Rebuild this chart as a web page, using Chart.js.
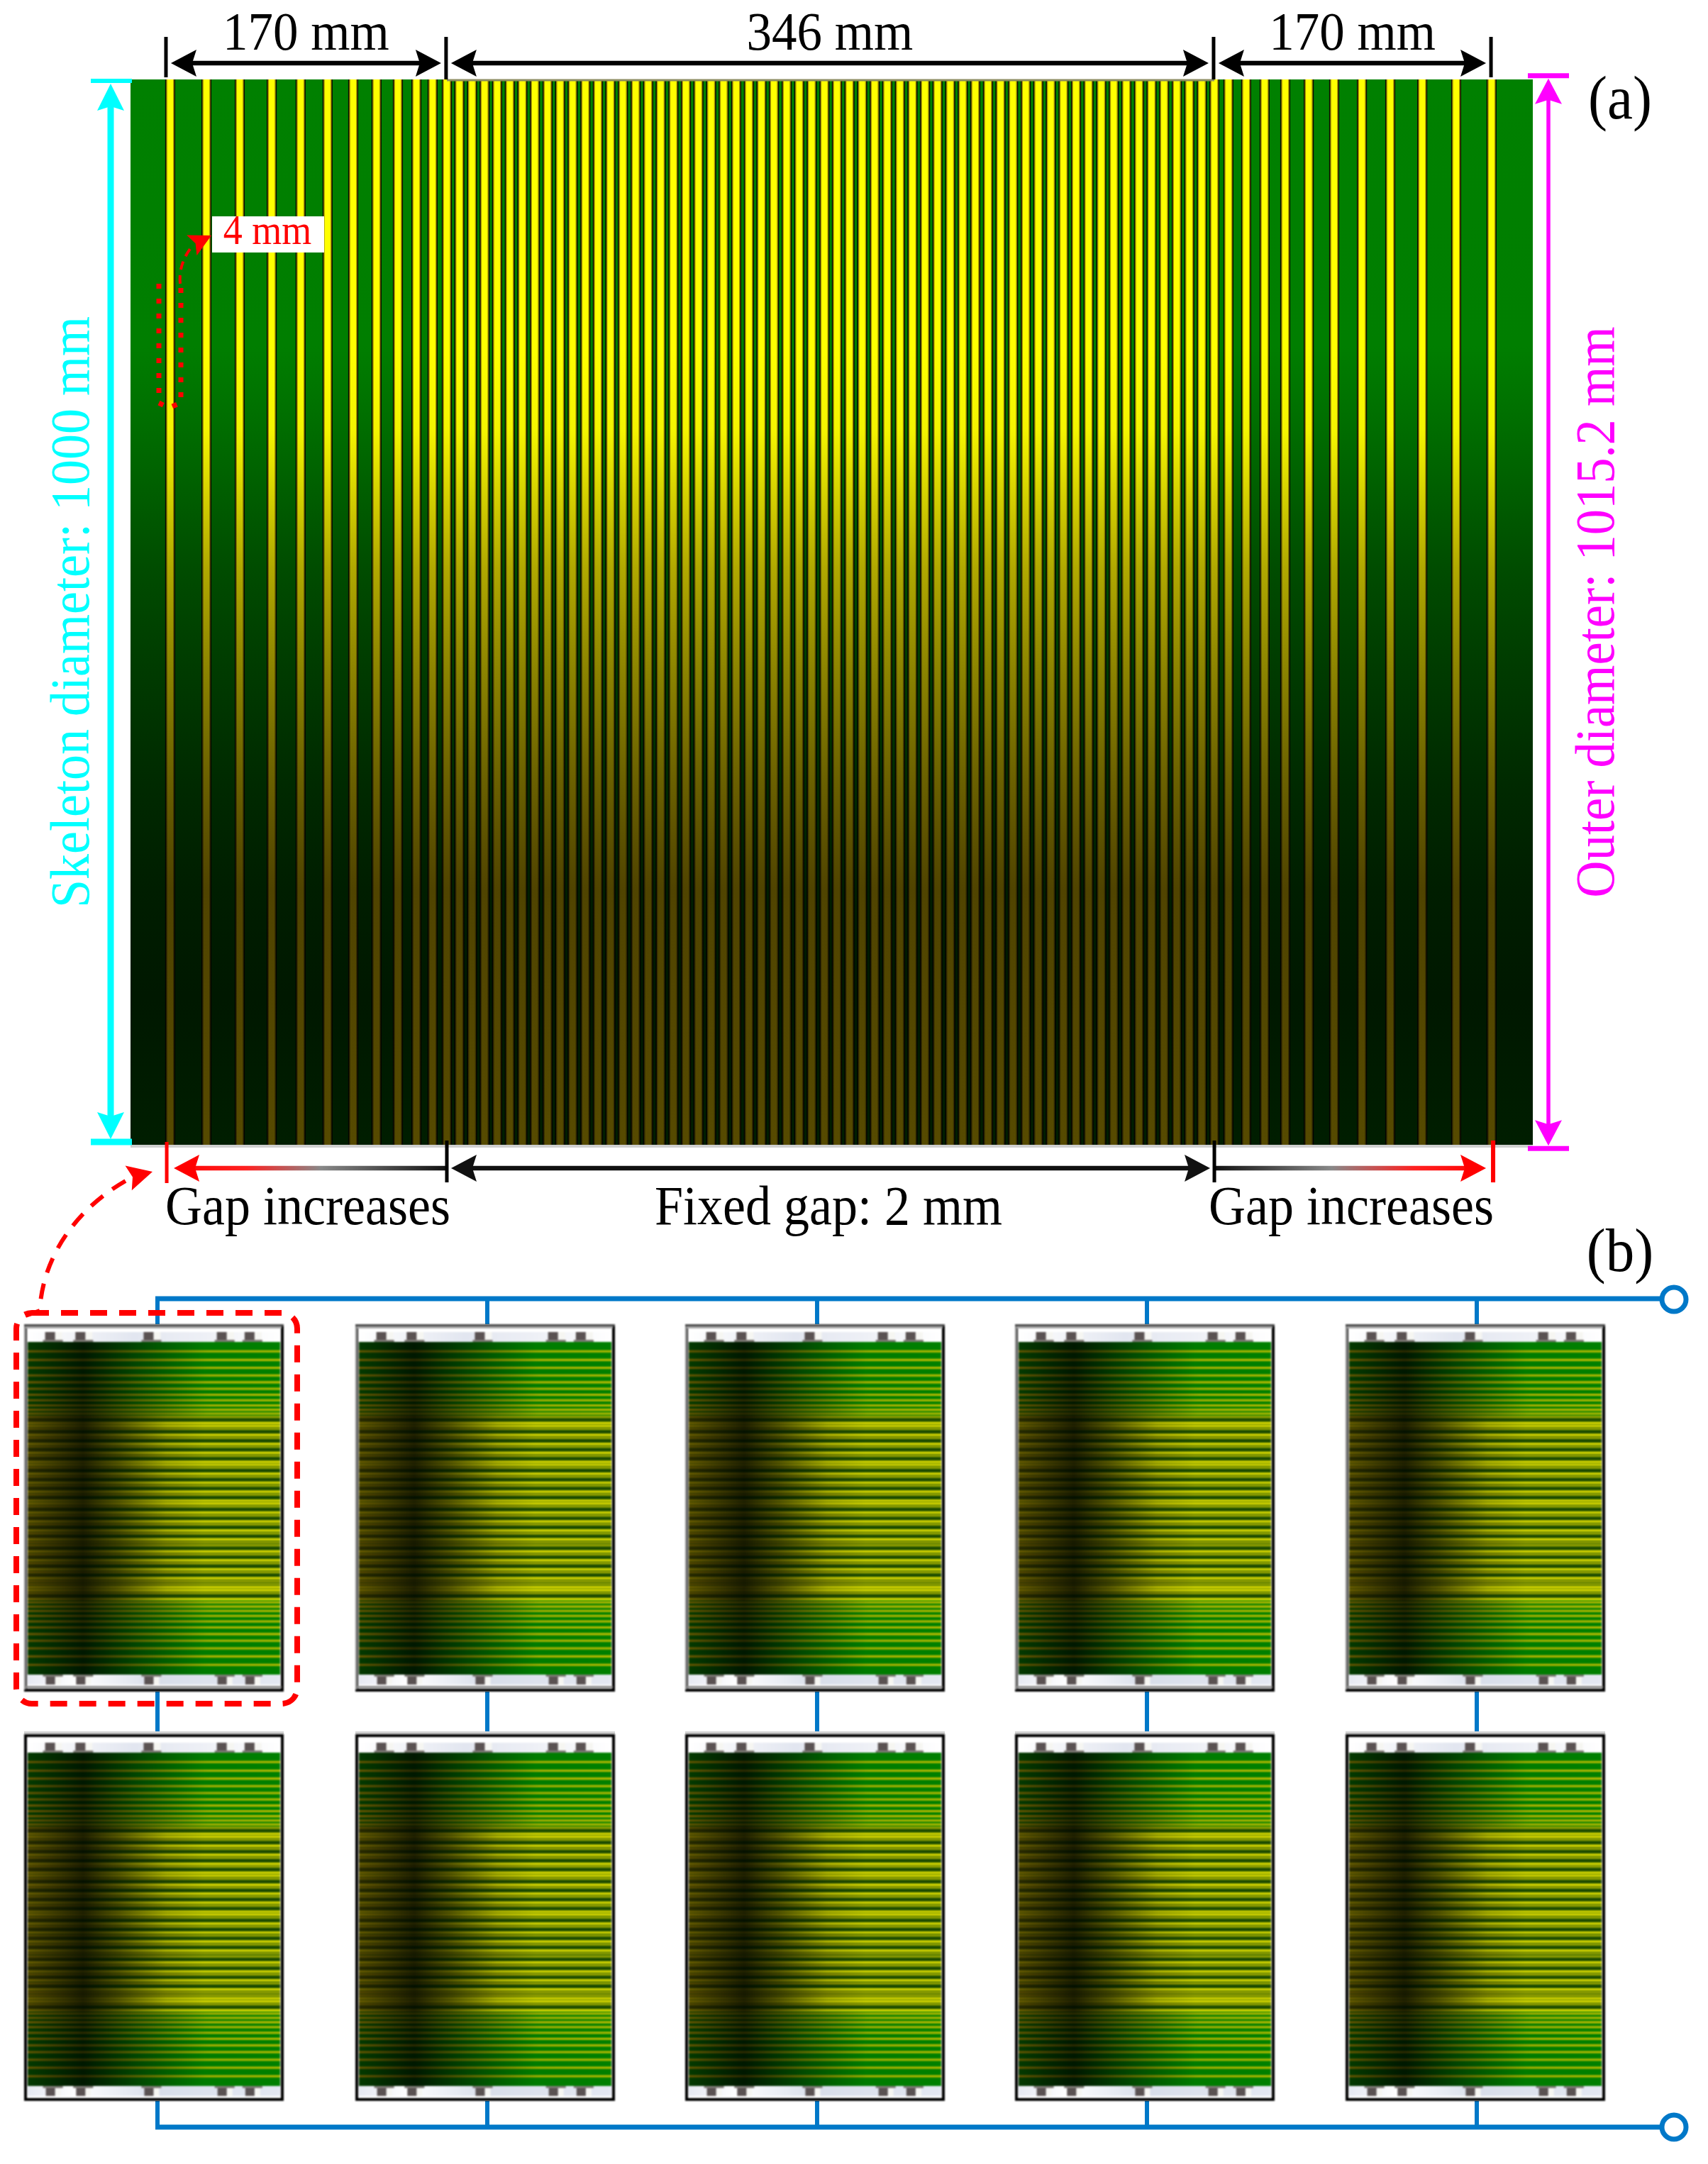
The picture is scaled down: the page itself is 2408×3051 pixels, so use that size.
<!DOCTYPE html>
<html lang="en">
<head>
  <meta charset="UTF-8">
  <title>Stripe layout on the skeleton and module array</title>
  <script src="https://cdn.jsdelivr.net/npm/chart.js"></script>
  <style>
    html, body { margin: 0; padding: 0; background: #fff; }
    #page { position: relative; width: 2408px; height: 3051px; overflow: hidden; }
    #page canvas { position: absolute; }
    .tile { filter: blur(0.8px); }
  </style>
</head>
<body>
  <div id="page"><canvas id="panelA" width="2408" height="3051" style="left:0;top:0"></canvas></div>

  <script>
    // stripe centres along the board
    const leftStripes = [0, 18.8, 36.1, 52.7, 67.7, 81.7, 95, 107.1, 118.2, 127.8, 136.2];
    const fixedStripes = [143.6, 150.1, 156.7, 163.2, 169.7, 176.3, 182.8, 189.3, 195.9, 202.4, 208.9,
      215.5, 222, 228.5, 235, 241.6, 248.1, 254.6, 261.2, 267.7, 274.2, 280.8, 287.3, 293.8, 300.4,
      306.9, 313.4, 320, 326.5, 333, 339.6, 346.1, 352.6, 359.2, 365.7, 372.2, 378.8, 385.3, 391.8,
      398.3, 404.9, 411.4, 417.9, 424.5, 431, 437.5, 444.1, 450.6, 457.1, 463.7, 470.2, 476.7, 483.3,
      489.8, 496.3, 502.9, 509.4, 515.9, 522.5, 529, 535.5, 542];
    const rightStripes = [549.3, 558.5, 568.1, 578.8, 591, 604.2, 618.6, 633.3, 649.9, 667.5, 685.9];
    const allStripes = [...leftStripes, ...fixedStripes, ...rightStripes];
    const sideStripes = [...leftStripes, ...rightStripes];

    const boardRange = [-20.6, 707.3];
    const diameterRange = [0, 1000];
    const topTicks = [-2.2, 143.2, 541.6, 685.6];
    const bottomTicks = [-1.8, 143.6, 542, 686.7];
    const outerEnds = [-3.5, 1003.5];
    const topLabels = ["170 mm", "346 mm", "170 mm"];
    const bottomLabels = ["Gap increases", "Fixed gap: 2 mm", "Gap increases"];
    const boltPositions = [100, 220, 490, 780, 890];

    // panel (b) layout
    const tileLefts = [34, 501, 966, 1431, 1897];
    const wireXs = [222, 687, 1152, 1617, 2082];
    const rows = [
      { top: 1867, bottom: 2385, boardTop: 1892, boardBottom: 2361, grey: true },
      { top: 2445, bottom: 2962, boardTop: 2471, boardBottom: 2941, grey: false }
    ];
    const tileWidth = 366;
    const serif = '"Liberation Serif", "Times New Roman", serif';

    Chart.defaults.animation = false;
    Chart.defaults.devicePixelRatio = 1;

    function label(ctx, str, x, y, size, color, align, rot) {
      ctx.save();
      ctx.translate(x, y);
      if (rot) ctx.rotate(rot);
      ctx.scale(1, 1.08);
      ctx.font = size + "px " + serif;
      ctx.fillStyle = color;
      ctx.textAlign = align || "center";
      ctx.textBaseline = "alphabetic";
      ctx.fillText(str, 0, 0);
      ctx.restore();
    }

    function arrowHead(ctx, x, y, dx, dy, len, half, color) {
      const d = Math.hypot(dx, dy), ux = dx / d, uy = dy / d;
      ctx.fillStyle = color;
      ctx.beginPath();
      ctx.moveTo(x, y);
      ctx.lineTo(x - ux * len - uy * half, y - uy * len + ux * half);
      ctx.lineTo(x - ux * (len - 6), y - uy * (len - 6));
      ctx.lineTo(x - ux * len + uy * half, y - uy * len - ux * half);
      ctx.closePath();
      ctx.fill();
    }

    function seg(ctx, x1, y1, x2, y2, w, color) {
      ctx.strokeStyle = color;
      ctx.lineWidth = w;
      ctx.beginPath();
      ctx.moveTo(x1, y1);
      ctx.lineTo(x2, y2);
      ctx.stroke();
    }

    function stripeFade(chart, stops) {
      const a = chart.chartArea;
      if (!a) return stops[0][1];
      const g = chart.ctx.createLinearGradient(0, a.top, 0, a.bottom);
      stops.forEach(s => g.addColorStop(s[0], s[1]));
      return g;
    }

    const yellowStops = [[0, "#ffff00"], [0.25, "#ffff00"], [0.33, "#f4f400"], [0.46, "#b0a800"], [0.56, "#8a8200"], [0.66, "#6a6000"], [0.76, "#504400"], [1, "#564a00"]];
    const oliveStops = [[0, "#a89a00"], [0.25, "#a89a00"], [0.33, "#9c9000"], [0.46, "#766e00"], [0.56, "#5a5200"], [0.66, "#443c00"], [0.76, "#342c00"], [1, "#383000"]];
    const shadowStops = [[0, "#0a0a00"], [1, "#020200"]];

    const boardShade = {
      id: "boardShade",
      beforeDatasetsDraw(chart) {
        const a = chart.chartArea, ctx = chart.ctx;
        ctx.fillStyle = stripeFade(chart, [[0, "#008000"], [0.25, "#007e00"], [0.33, "#006c00"], [0.46, "#004c00"],
          [0.56, "#003a00"], [0.66, "#002a00"], [0.76, "#001e00"], [0.86, "#001800"], [1, "#001e00"]]);
        ctx.fillRect(a.left, a.top, a.right - a.left, a.bottom - a.top);
      }
    };

    const annotate = {
      id: "annotate",
      afterDraw(chart) {
        const ctx = chart.ctx, a = chart.chartArea;
        const X = chart.scales.x, Y = chart.scales.y;
        ctx.save();

        // thin pale edges of the board
        seg(ctx, X.getPixelForValue(fixedStripes[0]), a.top + 1, X.getPixelForValue(542), a.top + 1, 3, "#8e8e62");
        seg(ctx, a.left, a.bottom + 2, a.right, a.bottom + 2, 4, "#cfcfcf");

        // top dimension lines
        const topY = a.top - 23;
        const tx = topTicks.map(v => X.getPixelForValue(v));
        tx.forEach((x, i) => seg(ctx, x, a.top - 60, x, a.top - (i === 1 || i === 2 ? 0 : 3), 5, "#000"));
        for (let i = 0; i < 3; i++) {
          seg(ctx, tx[i] + 30, topY, tx[i + 1] - 30, topY, 6.5, "#000");
          arrowHead(ctx, tx[i] + 7, topY, -1, 0, 36, 19, "#000");
          arrowHead(ctx, tx[i + 1] - 7, topY, 1, 0, 36, 19, "#000");
          label(ctx, topLabels[i], (tx[i] + tx[i + 1]) / 2, 70, 71, "#000");
        }

        // bottom dimension lines, red fading into black
        const botY = a.bottom + 33;
        const bx = bottomTicks.map(v => X.getPixelForValue(v));
        const leftFade = ctx.createLinearGradient(bx[0], 0, bx[1], 0);
        leftFade.addColorStop(0, "#ff0000");
        leftFade.addColorStop(0.28, "#ff2020");
        leftFade.addColorStop(0.55, "#888");
        leftFade.addColorStop(1, "#111");
        const rightFade = ctx.createLinearGradient(bx[2], 0, bx[3], 0);
        rightFade.addColorStop(0, "#111");
        rightFade.addColorStop(0.42, "#888");
        rightFade.addColorStop(0.72, "#ff2020");
        rightFade.addColorStop(1, "#ff0000");
        seg(ctx, bx[0] + 30, botY, bx[1], botY, 6.5, leftFade);
        seg(ctx, bx[1] + 30, botY, bx[2] - 30, botY, 6.5, "#111");
        seg(ctx, bx[2], botY, bx[3] - 30, botY, 6.5, rightFade);
        arrowHead(ctx, bx[0] + 10, botY, -1, 0, 36, 19, "#ff0000");
        arrowHead(ctx, bx[1] + 6, botY, -1, 0, 36, 19, "#111");
        arrowHead(ctx, bx[2] - 6, botY, 1, 0, 36, 19, "#111");
        arrowHead(ctx, bx[3] - 10, botY, 1, 0, 36, 19, "#ff0000");
        seg(ctx, bx[0], a.bottom - 4, bx[0], a.bottom + 54, 5, "#ff0000");
        seg(ctx, bx[1], a.bottom - 6, bx[1], a.bottom + 53, 5, "#000");
        seg(ctx, bx[2], a.bottom - 6, bx[2], a.bottom + 53, 5, "#000");
        seg(ctx, bx[3], a.bottom - 6, bx[3], a.bottom + 53, 6, "#ff0000");
        label(ctx, bottomLabels[0], 434, 1726, 72, "#000");
        label(ctx, bottomLabels[1], 1168, 1726, 72, "#000");
        label(ctx, bottomLabels[2], 1905, 1726, 72, "#000");

        // skeleton diameter, cyan
        const cyan = "#00ffff", cx = 156;
        const cTop = Y.getPixelForValue(diameterRange[1]), cBot = Y.getPixelForValue(diameterRange[0]);
        seg(ctx, 128, cTop + 2, 186, cTop + 2, 6, cyan);
        seg(ctx, 128, cBot - 4, 186, cBot - 4, 9, cyan);
        seg(ctx, cx, cTop + 30, cx, cBot - 30, 9, cyan);
        arrowHead(ctx, cx, cTop + 6, 0, -1, 38, 19, cyan);
        arrowHead(ctx, cx, cBot - 8, 0, 1, 38, 19, cyan);
        label(ctx, "Skeleton diameter: 1000 mm", 125, 863, 72, cyan, "center", -Math.PI / 2);

        // outer diameter, magenta
        const mag = "#ff00ff", mx = 2183;
        const mTop = Y.getPixelForValue(outerEnds[1]), mBot = Y.getPixelForValue(outerEnds[0]);
        seg(ctx, 2154, mTop, 2212, mTop, 7, mag);
        seg(ctx, 2154, mBot, 2212, mBot, 7, mag);
        seg(ctx, mx, mTop + 30, mx, mBot - 30, 5.5, mag);
        arrowHead(ctx, mx, mTop + 4, 0, -1, 36, 19, mag);
        arrowHead(ctx, mx, mBot - 4, 0, 1, 36, 19, mag);
        label(ctx, "Outer diameter: 1015.2 mm", 2275, 863, 72.5, mag, "center", -Math.PI / 2);

        label(ctx, "(a)", 2284, 167, 81, "#000");
        label(ctx, "(b)", 2284, 1792, 81, "#000");

        // 4 mm callout
        ctx.fillStyle = "#fff";
        ctx.fillRect(299, 305, 158, 51);
        label(ctx, "4 mm", 377, 344, 54, "#ff0000");
        ctx.lineCap = "butt";
        ctx.setLineDash([7, 14]);
        ctx.strokeStyle = "#ff0000";
        ctx.lineWidth = 7;
        ctx.beginPath();
        ctx.moveTo(224, 400);
        ctx.lineTo(224, 568);
        ctx.lineTo(238, 575);
        ctx.lineTo(255, 568);
        ctx.lineTo(255, 404);
        ctx.stroke();
        ctx.setLineDash([12, 8]);
        ctx.lineWidth = 4;
        ctx.beginPath();
        ctx.moveTo(254, 400);
        ctx.bezierCurveTo(252, 382, 258, 362, 272, 346);
        ctx.stroke();
        ctx.setLineDash([]);
        arrowHead(ctx, 298, 332, 28, -14, 31, 16, "#ff0000");

        // wires of panel (b)
        const blue = "#0078c8";
        const lastX = 2343;
        seg(ctx, wireXs[0] - 3, rows[0].top - 36, lastX, rows[0].top - 36, 7, blue);
        seg(ctx, wireXs[0] - 3, rows[1].bottom + 37, lastX, rows[1].bottom + 37, 7, blue);
        wireXs.forEach(x => {
          seg(ctx, x, rows[0].top - 36, x, rows[0].top, 6, blue);
          seg(ctx, x, rows[0].bottom, x, rows[1].top, 6, blue);
          seg(ctx, x, rows[1].bottom, x, rows[1].bottom + 37, 6, blue);
        });
        [rows[0].top - 35, rows[1].bottom + 37].forEach(y => {
          ctx.beginPath();
          ctx.arc(2360, y, 17, 0, Math.PI * 2);
          ctx.fillStyle = "#fff";
          ctx.fill();
          ctx.strokeStyle = blue;
          ctx.lineWidth = 7;
          ctx.stroke();
        });
        // pale line sitting on top of the lower tiles
        tileLefts.forEach(x => seg(ctx, x, rows[1].top - 2, x + tileWidth, rows[1].top - 2, 4, "#d4d4d4"));

        // red dashed box and its arrow up to panel (a)
        ctx.strokeStyle = "#ff0000";
        ctx.lineWidth = 8;
        ctx.setLineDash([24, 17]);
        ctx.beginPath();
        ctx.roundRect(23, 1851, 396, 551, 22);
        ctx.stroke();
        ctx.lineWidth = 6;
        ctx.setLineDash([22, 16]);
        ctx.beginPath();
        ctx.moveTo(36, 1855);
        ctx.lineTo(56, 1848);
        ctx.bezierCurveTo(60, 1770, 110, 1700, 186, 1660);
        ctx.stroke();
        ctx.setLineDash([]);
        arrowHead(ctx, 215, 1652, 34, -9, 35, 18, "#ff0000");
        ctx.restore();
      }
    };

    new Chart(document.getElementById("panelA"), {
      type: "bar",
      data: {
        datasets: [
          { data: allStripes.map(v => ({ x: v, y: diameterRange })), barThickness: 7.5, order: 1,
            backgroundColor: c => stripeFade(c.chart, yellowStops) },
          { data: allStripes.map(v => ({ x: v, y: diameterRange })), barThickness: 10.5, order: 2,
            backgroundColor: c => stripeFade(c.chart, oliveStops) },
          { data: allStripes.map(v => ({ x: v, y: diameterRange })), barThickness: 13.5, order: 3,
            backgroundColor: c => stripeFade(c.chart, shadowStops) }
        ]
      },
      options: {
        responsive: false,
        layout: { padding: { left: 184, right: 247, top: 112, bottom: 1437 } },
        plugins: { legend: { display: false }, tooltip: { enabled: false } },
        datasets: { bar: { grouped: false, borderWidth: 0 } },
        scales: {
          x: { type: "linear", display: false, min: boardRange[0], max: boardRange[1], offset: false },
          y: { type: "linear", display: false, min: diameterRange[0], max: diameterRange[1] }
        }
      },
      plugins: [boardShade, annotate]
    });

    // ---- panel (b): ten identical tiles, board rotated by 90 degrees
    function tileFade(chart, stops) {
      const a = chart.chartArea;
      if (!a) return stops[0][1];
      const g = chart.ctx.createLinearGradient(a.left, 0, a.right, 0);
      stops.forEach(s => g.addColorStop(s[0], s[1]));
      return g;
    }
    const tileBoardStops = [[0, "#043a00"], [0.22, "#001800"], [0.45, "#014a01"], [0.7, "#007c00"], [1, "#008000"]];
    const sideStops = [[0, "#6a5800"], [0.22, "#2e2a00"], [0.5, "#787800"], [0.72, "#b4b400"], [1, "#bcbc00"]];
    const brightStops = [[0, "#6e5e00"], [0.22, "#262200"], [0.36, "#625c00"], [0.55, "#c0bc00"], [0.7, "#dcd800"], [1, "#dcd800"]];
    const midStops = [[0, "#584800"], [0.22, "#1c1a00"], [0.36, "#444200"], [0.55, "#848400"], [0.7, "#98a000"], [1, "#94a000"]];
    const dimStops = [[0, "#2c2800"], [0.22, "#061000"], [0.36, "#0e2600"], [0.55, "#1c4000"], [0.7, "#204a00"], [1, "#1e4800"]];

    // the tiles are small enough that the stripes beat against the pixel grid
    function beatStops(i) {
      const phase = ((i + leftStripes.length) * 4.2 % 13.6) / 13.6;
      return phase < 0.36 ? brightStops : phase < 0.7 ? midStops : dimStops;
    }

    function tilePlugin(row) {
      return {
        id: "tileFrame",
        beforeDatasetsDraw(chart) {
          const ctx = chart.ctx, a = chart.chartArea, w = chart.width, h = chart.height;
          const Y = chart.scales.y;
          ctx.fillStyle = "#fff";
          ctx.fillRect(0, 0, w, h);
          const band = ctx.createLinearGradient(a.left, 0, a.right, 0);
          band.addColorStop(0, "#ffffff");
          band.addColorStop(0.42, "#e2e6f0");
          band.addColorStop(0.7, "#eef0f6");
          band.addColorStop(1, "#ffffff");
          ctx.fillStyle = band;
          ctx.fillRect(a.left, a.top - 14, a.right - a.left, 14);
          const bandLow = ctx.createLinearGradient(a.left, 0, a.right, 0);
          bandLow.addColorStop(0, "#e6e9f2");
          bandLow.addColorStop(0.2, "#ffffff");
          bandLow.addColorStop(0.5, "#d8deea");
          bandLow.addColorStop(1, "#e4e8f2");
          ctx.fillStyle = bandLow;
          ctx.fillRect(a.left, a.bottom, a.right - a.left, 14);
          ctx.fillStyle = tileFade(chart, tileBoardStops);
          ctx.fillRect(a.left, a.top, a.right - a.left, a.bottom - a.top);
          // the closely spaced part reads darker between its stripes
          const y1 = Y.getPixelForValue(fixedStripes[0]);
          const y2 = Y.getPixelForValue(fixedStripes[fixedStripes.length - 1]);
          ctx.fillStyle = "rgba(0, 24, 0, 0.5)";
          ctx.fillRect(a.left, y1, a.right - a.left, y2 - y1);
        },
        afterDraw(chart) {
          const ctx = chart.ctx, a = chart.chartArea, w = chart.width, h = chart.height;
          const X = chart.scales.x;
          boltPositions.forEach(v => {
            const x = X.getPixelForValue(v);
            ctx.fillStyle = "#f6f6f2";
            ctx.fillRect(x + 3, a.top - 14, 10, 11);
            ctx.fillRect(x + 3, a.bottom + 2, 8, 12);
            ctx.fillStyle = "#5a5252";
            ctx.fillRect(x - 11, a.top - 14, 14, 13);
            ctx.fillRect(x - 10, a.bottom + 2, 13, 12);
            ctx.fillStyle = "#7e7a76";
            ctx.fillRect(x - 14, a.top - 3, 28, 3);
            ctx.fillRect(x - 14, a.bottom, 28, 3);
          });
          ctx.lineWidth = 4;
          ctx.strokeStyle = "#000";
          ctx.strokeRect(2, 2, w - 4, h - 4);
          if (row.grey) {
            ctx.fillStyle = "#4a4a4a";
            ctx.fillRect(0, 0, w, 3);
            ctx.fillStyle = "#a8a8a8";
            ctx.fillRect(3, 3, w - 6, 3);
            ctx.fillStyle = "#8a8a8a";
            ctx.fillRect(0, 3, 3, h - 6);
            ctx.fillRect(3, h - 8, w - 6, 3);
          }
        }
      };
    }

    rows.forEach(row => {
      tileLefts.forEach(left => {
        const canvas = document.createElement("canvas");
        canvas.className = "tile";
        canvas.width = tileWidth;
        canvas.height = row.bottom - row.top;
        canvas.style.left = left + "px";
        canvas.style.top = row.top + "px";
        document.getElementById("page").appendChild(canvas);
        new Chart(canvas, {
          type: "bar",
          data: {
            datasets: [
              { data: sideStripes.map(v => ({ y: v, x: [0, 1000] })), barThickness: 2.4,
                backgroundColor: c => tileFade(c.chart, sideStops) },
              { data: fixedStripes.map(v => ({ y: v, x: [0, 1000] })), barThickness: 2.8,
                backgroundColor: c => tileFade(c.chart, beatStops(c.dataIndex)) }
            ]
          },
          options: {
            indexAxis: "y",
            responsive: false,
            layout: { padding: { left: 5, right: 5, top: row.boardTop - row.top, bottom: row.bottom - row.boardBottom } },
            plugins: { legend: { display: false }, tooltip: { enabled: false } },
            datasets: { bar: { grouped: false, borderWidth: 0 } },
            scales: {
              x: { type: "linear", display: false, min: 0, max: 1000 },
              y: { type: "linear", display: false, reverse: true, min: boardRange[0], max: boardRange[1], offset: false }
            }
          },
          plugins: [tilePlugin(row)]
        });
      });
    });
  </script>
</body>
</html>
